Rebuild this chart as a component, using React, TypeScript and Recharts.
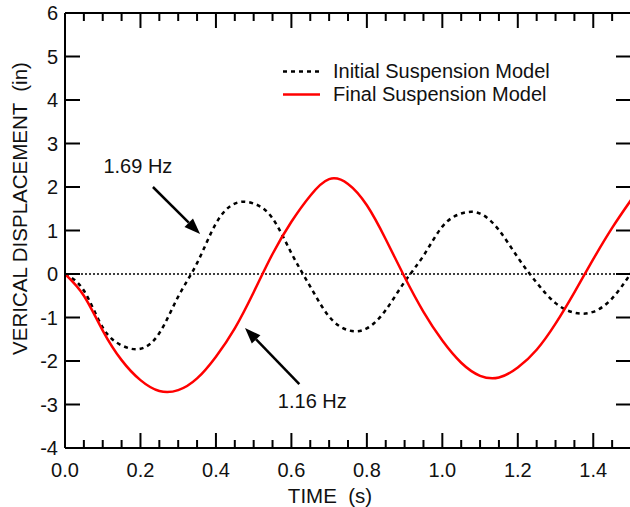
import React from "react";
import { LineChart, Line, XAxis, YAxis, ReferenceLine, Legend, Label } from "recharts";

// sample times (s), every 0.05 s
const TIME = [
  0, 0.05, 0.1, 0.15, 0.2, 0.25, 0.3, 0.35, 0.4, 0.45, 0.5, 0.55, 0.6, 0.65, 0.7, 0.75,
  0.8, 0.85, 0.9, 0.95, 1.0, 1.05, 1.1, 1.15, 1.2, 1.25, 1.3, 1.35, 1.4, 1.45, 1.5,
];

// vertical displacement (in)
const INITIAL = [
  0, -0.38, -1.23, -1.64, -1.72, -1.36, -0.52, 0.25, 1.16, 1.62, 1.62, 1.28, 0.48, -0.29, -0.98, -1.29,
  -1.25, -0.83, -0.18, 0.42, 1.09, 1.39, 1.39, 1.01, 0.38, -0.2, -0.67, -0.89, -0.87, -0.56, 0.02,
];
const FINAL = [
  0, -0.5, -1.3, -1.98, -2.44, -2.69, -2.67, -2.4, -1.9, -1.25, -0.42, 0.46, 1.2, 1.8, 2.18, 2.07,
  1.58, 0.8, -0.07, -0.87, -1.53, -2.04, -2.34, -2.38, -2.15, -1.74, -1.14, -0.42, 0.34, 1.06, 1.7,
];

const X_TICKS = TIME;
const Y_TICKS = [-4, -3, -2, -1, 0, 1, 2, 3, 4, 5, 6];

const SERIES = [
  { key: "initial", name: "Initial Suspension Model", color: "#000", dash: "4 4" },
  { key: "final", name: "Final Suspension Model", color: "#ff0000", dash: undefined },
];

const data = TIME.map((t, i) => ({ t, initial: INITIAL[i], final: FINAL[i] }));

const FONT = "'Liberation Sans', Arial, sans-serif";
const INK = "#111";

const isMajor = (v: number) => Math.abs(v * 5 - Math.round(v * 5)) < 1e-6;

function BottomTick({ x, y, payload }: any) {
  const major = isMajor(payload.value);
  return (
    <g>
      <line x1={x} y1={y} x2={x} y2={y - (major ? 15 : 8)} stroke="#000" strokeWidth={2} />
      {major && (
        <text x={x} y={y + 29} textAnchor="middle" fontSize={20} fontFamily={FONT} fill={INK}>
          {payload.value.toFixed(1)}
        </text>
      )}
    </g>
  );
}

function TopTick({ x, y, payload }: any) {
  const major = isMajor(payload.value);
  return <line x1={x} y1={y} x2={x} y2={y + (major ? 15 : 8)} stroke="#000" strokeWidth={2} />;
}

function LeftTick({ x, y, payload }: any) {
  return (
    <g>
      <line x1={x} y1={y} x2={x + 15} y2={y} stroke="#000" strokeWidth={2} />
      <text x={x - 7} y={y + 7} textAnchor="end" fontSize={20} fontFamily={FONT} fill={INK}>
        {payload.value}
      </text>
    </g>
  );
}

function RightTick({ x, y }: any) {
  return <line x1={x} y1={y} x2={x - 15} y2={y} stroke="#000" strokeWidth={2} />;
}

function arrowShape(text: string, tdx: number, tdy: number) {
  return (props: any) => {
    const { x1, y1, x2, y2 } = props;
    const ang = Math.atan2(y2 - y1, x2 - x1);
    const len = 16;
    const hw = 6;
    const bx = x2 - len * Math.cos(ang);
    const by = y2 - len * Math.sin(ang);
    const px = -Math.sin(ang) * hw;
    const py = Math.cos(ang) * hw;
    return (
      <g>
        <line x1={x1} y1={y1} x2={bx} y2={by} stroke="#000" strokeWidth={2.5} />
        <polygon points={`${x2},${y2} ${bx + px},${by + py} ${bx - px},${by - py}`} fill="#000" />
        <text x={x1 + tdx} y={y1 + tdy} textAnchor="middle" fontSize={20} fontFamily={FONT} fill={INK}>
          {text}
        </text>
      </g>
    );
  };
}

function LegendBox() {
  return (
    <div style={{ fontFamily: FONT, fontSize: 20, lineHeight: "23px", color: INK }}>
      {SERIES.map((s) => (
        <div key={s.key} style={{ display: "flex", alignItems: "center", height: 23 }}>
          <svg width={50} height={23}>
            <line x1={0} y1={11.5} x2={37} y2={11.5} stroke={s.color} strokeWidth={2.5} strokeDasharray={s.dash} />
          </svg>
          <span style={{ whiteSpace: "nowrap" }}>{s.name}</span>
        </div>
      ))}
    </div>
  );
}

export default function App() {
  return (
    <div style={{ position: "absolute", left: 0, top: 0, width: 630, height: 507, overflow: "hidden", background: "#fff" }}>
      <LineChart width={640} height={507} data={data} margin={{ top: 12, right: 8, bottom: 0, left: 0 }}>
        <XAxis
          dataKey="t"
          type="number"
          domain={[0, 1.5]}
          ticks={X_TICKS}
          interval={0}
          height={59}
          tickLine={false}
          tickSize={0}
          tickMargin={0}
          tick={<BottomTick />}
          axisLine={{ stroke: "#000", strokeWidth: 2 }}
          allowDataOverflow
        >
          <Label
            content={({ viewBox }: any) => (
              <text
                x={viewBox.x + viewBox.width / 2 - 18}
                y={viewBox.y + 55}
                textAnchor="middle"
                fontSize={20.5}
                fontFamily={FONT}
                fill={INK}
              >
                {"TIME \u00A0(s)"}
              </text>
            )}
          />
        </XAxis>
        <XAxis
          xAxisId="top"
          orientation="top"
          dataKey="t"
          type="number"
          domain={[0, 1.5]}
          ticks={X_TICKS}
          interval={0}
          height={1}
          tickLine={false}
          tickSize={0}
          tickMargin={0}
          tick={<TopTick />}
          axisLine={{ stroke: "#000", strokeWidth: 2 }}
          allowDataOverflow
        />
        <YAxis
          type="number"
          domain={[-4, 6]}
          ticks={Y_TICKS}
          interval={0}
          width={65}
          tickLine={false}
          tickSize={0}
          tickMargin={0}
          tick={<LeftTick />}
          axisLine={{ stroke: "#000", strokeWidth: 2 }}
          allowDataOverflow
        >
          <Label
            content={({ viewBox }: any) => {
              const cx = 27;
              const cy = viewBox.y + viewBox.height / 2 - 22;
              return (
                <text
                  x={cx}
                  y={cy}
                  transform={`rotate(-90, ${cx}, ${cy})`}
                  textAnchor="middle"
                  fontSize={20.5}
                  fontFamily={FONT}
                  fill={INK}
                >
                  {"VERICAL DISPLACEMENT \u00A0(in)"}
                </text>
              );
            }}
          />
        </YAxis>
        <YAxis
          yAxisId="right"
          orientation="right"
          type="number"
          domain={[-4, 6]}
          ticks={Y_TICKS}
          interval={0}
          width={1}
          tickLine={false}
          tickSize={0}
          tickMargin={0}
          tick={<RightTick />}
          axisLine={{ stroke: "#000", strokeWidth: 2 }}
          allowDataOverflow
        />
        <ReferenceLine y={0} stroke="#000" strokeWidth={1.5} strokeDasharray="2 2" />
        <Line
          dataKey="initial"
          name={SERIES[0].name}
          type="natural"
          stroke={SERIES[0].color}
          strokeWidth={2.5}
          strokeDasharray={SERIES[0].dash}
          dot={false}
          activeDot={false}
          isAnimationActive={false}
        />
        <Line
          dataKey="final"
          name={SERIES[1].name}
          type="natural"
          stroke={SERIES[1].color}
          strokeWidth={2.5}
          dot={false}
          activeDot={false}
          isAnimationActive={false}
        />
        <ReferenceLine
          segment={[
            { x: 0.233, y: 2.0 },
            { x: 0.358, y: 0.92 },
          ]}
          shape={arrowShape("1.69 Hz", -15, -14)}
        />
        <ReferenceLine
          segment={[
            { x: 0.621, y: -2.53 },
            { x: 0.477, y: -1.24 },
          ]}
          shape={arrowShape("1.16 Hz", 13, 24)}
        />
        <Legend
          layout="vertical"
          align="center"
          verticalAlign="middle"
          content={() => <LegendBox />}
          wrapperStyle={{ position: "absolute", left: 283, top: 60, width: 320 }}
        />
      </LineChart>
    </div>
  );
}
